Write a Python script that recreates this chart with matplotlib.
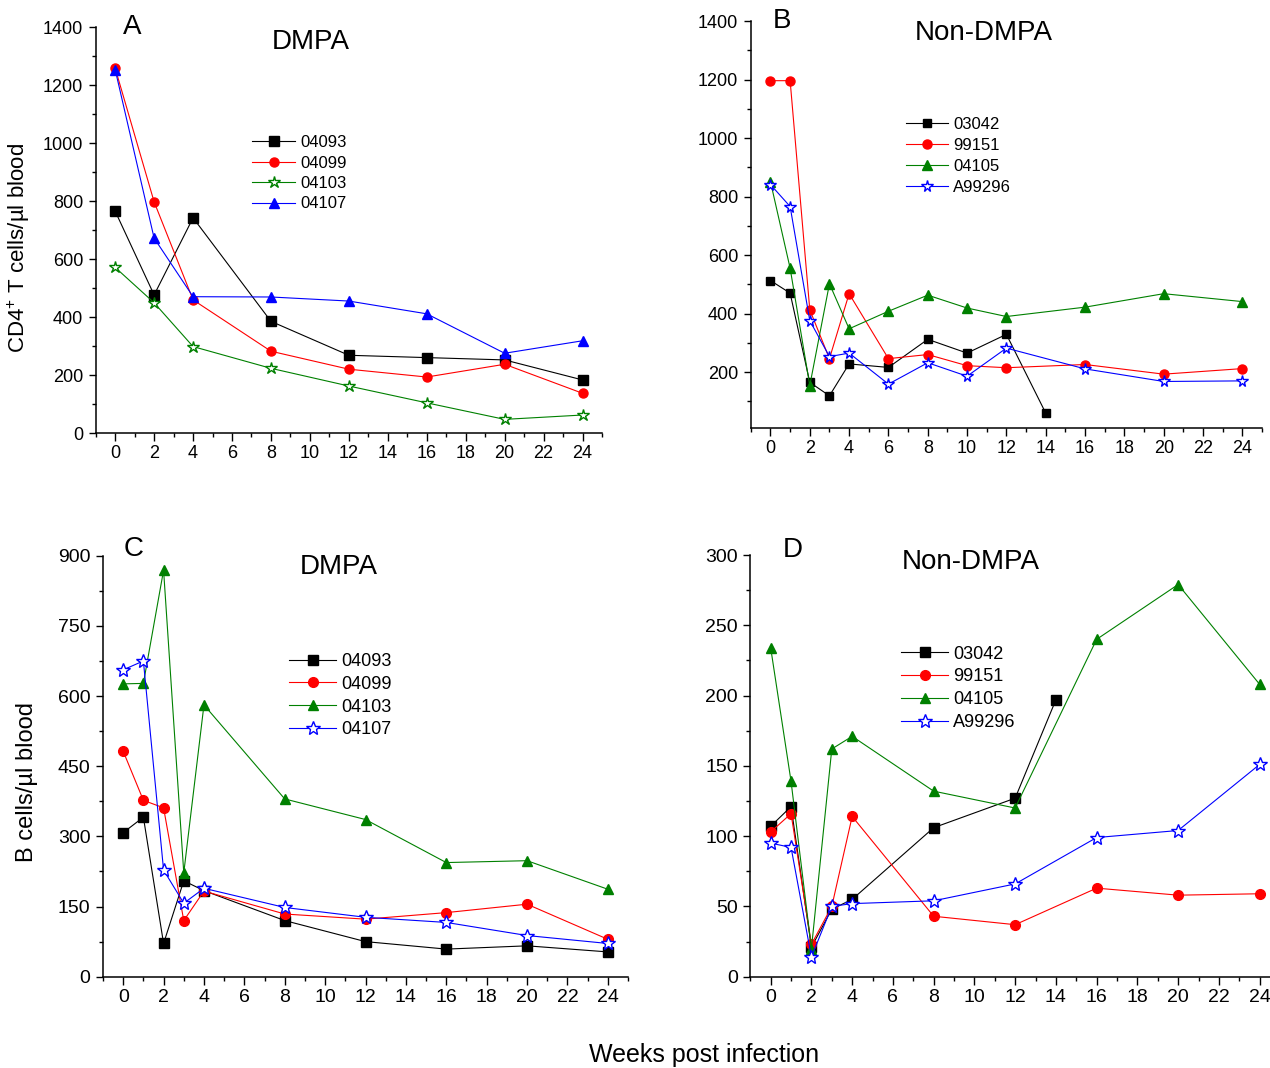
import matplotlib.pyplot as plt
from matplotlib.ticker import MultipleLocator

plt.rcParams['font.family'] = ['Liberation Sans', 'DejaVu Sans']
plt.rcParams['mathtext.default'] = 'regular'

# panel A: CD4+ T cells, DMPA
weeks_a = [0, 2, 4, 8, 12, 16, 20, 24]
cd4_04093 = [765, 476, 742, 385, 268, 260, 252, 183]
cd4_04099 = [1258, 797, 459, 282, 220, 193, 237, 137]
cd4_04103 = [571, 449, 298, 223, 162, 104, 47, 62]
cd4_04107 = [1253, 672, 470, 469, 455, 411, 275, 318]

# panel B: CD4+ T cells, Non-DMPA
weeks_b = [0, 1, 2, 3, 4, 6, 8, 10, 12, 16, 20, 24]
weeks_b_03042 = [0, 1, 2, 3, 4, 6, 8, 10, 12, 14]
cd4_03042 = [513, 470, 165, 119, 228, 216, 312, 265, 329, 60]
cd4_99151 = [1196, 1196, 413, 246, 468, 246, 260, 222, 215, 226, 193, 212]
cd4_04105 = [851, 555, 154, 502, 348, 408, 463, 419, 390, 422, 468, 441]
cd4_A99296 = [841, 766, 376, 253, 265, 159, 232, 186, 282, 211, 168, 170]

# panel C: B cells, DMPA
weeks_c = [0, 1, 2, 3, 4, 8, 12, 16, 20, 24]
b_04093 = [308, 341, 71, 205, 184, 120, 75, 59, 66, 53]
b_04099 = [482, 377, 361, 120, 183, 134, 123, 137, 155, 80]
b_04103 = [626, 627, 869, 222, 581, 380, 336, 244, 248, 187]
b_04107 = [656, 675, 228, 157, 189, 148, 127, 116, 88, 71]

# panel D: B cells, Non-DMPA
weeks_d = [0, 1, 2, 3, 4, 8, 12, 16, 20, 24]
weeks_d_03042 = [0, 1, 2, 3, 4, 8, 12, 14]
b_03042 = [107, 121, 21, 48, 55, 106, 127, 197]
b_99151 = [103, 116, 23, 50, 114, 43, 37, 63, 58, 59]
b_04105 = [234, 139, 20, 162, 171, 132, 120, 240, 279, 208]
b_A99296 = [95, 92, 14, 50, 52, 54, 66, 99, 104, 151]

W, H = 1270, 1068
fig = plt.figure(figsize=(W / 100, H / 100), dpi=100)


def px_axes(left, top, right, bottom):
    return fig.add_axes([left / W, 1 - bottom / H, (right - left) / W, (bottom - top) / H])


def style(ax, ymin, ymax, ystep, fs):
    ax.set_xlim(-1, 25)
    ax.set_ylim(ymin, ymax)
    for s in ['top', 'right']:
        ax.spines[s].set_visible(False)
    for s in ['left', 'bottom']:
        ax.spines[s].set_linewidth(1.1)
    ax.xaxis.set_major_locator(MultipleLocator(2))
    ax.xaxis.set_minor_locator(MultipleLocator(1))
    ax.yaxis.set_major_locator(MultipleLocator(ystep))
    ax.yaxis.set_minor_locator(MultipleLocator(ystep / 2))
    ax.tick_params(axis='x', which='major', direction='out', length=5.8, width=1, pad=3, labelsize=fs)
    ax.tick_params(axis='y', which='major', direction='out', length=5, width=1, pad=4, labelsize=fs)
    ax.tick_params(which='minor', direction='out', length=3, width=1)


def leg(ax, x, y, fs, hl, sp):
    fs_px = fs * 100 / 72
    ax.legend(loc='upper left', bbox_to_anchor=(x / W, 1 - y / H), bbox_transform=fig.transFigure,
              frameon=False, fontsize=fs, numpoints=1, handlelength=hl / fs_px,
              handletextpad=5 / fs_px, labelspacing=sp, borderpad=0, borderaxespad=0)


def star(ax, x, y, c, ms, label):
    ax.plot(x, y, color=c, lw=0.8, marker='*', ms=ms, mfc='white', mec=c, mew=1, label=label)


# ---- A ----
ax = px_axes(95.7, 27, 602, 433)
ax.plot(weeks_a, cd4_04093, color='black', lw=0.8, marker='s', ms=7, label='04093')
ax.plot(weeks_a, cd4_04099, color='red', lw=0.8, marker='o', ms=6.5, label='04099')
star(ax, weeks_a, cd4_04103, 'green', 9, '04103')
ax.plot(weeks_a, cd4_04107, color='blue', lw=0.8, marker='^', ms=7, label='04107')
style(ax, 0, 1400, 200, 13)
leg(ax, 252, 135, 12, 43, 0.33)
fig.text(132 / W, 1 - 27 / H, 'A', fontsize=20, ha='center', va='center')
fig.text(311 / W, 1 - 42 / H, 'DMPA', fontsize=20, ha='center', va='center')

# ---- B ----
ax = px_axes(750.8, 21, 1262, 427.7)
ax.plot(weeks_b_03042, cd4_03042, color='black', lw=0.8, marker='s', ms=5.5, label='03042')
ax.plot(weeks_b, cd4_99151, color='red', lw=0.8, marker='o', ms=6.5, label='99151')
ax.plot(weeks_b, cd4_04105, color='green', lw=0.8, marker='^', ms=6.5, label='04105')
star(ax, weeks_b, cd4_A99296, 'blue', 8.5, 'A99296')
style(ax, 10, 1400, 200, 13)
leg(ax, 906, 117, 12, 42, 0.36)
fig.text(781.7 / W, 1 - 21 / H, 'B', fontsize=20, ha='center', va='center')
fig.text(984 / W, 1 - 33 / H, 'Non-DMPA', fontsize=20, ha='center', va='center')

# ---- C ----
ax = px_axes(103, 555.7, 628, 976.7)
ax.plot(weeks_c, b_04093, color='black', lw=0.8, marker='s', ms=7, label='04093')
ax.plot(weeks_c, b_04099, color='red', lw=0.8, marker='o', ms=7, label='04099')
ax.plot(weeks_c, b_04103, color='green', lw=0.8, marker='^', ms=7.5, label='04103')
star(ax, weeks_c, b_04107, 'blue', 10, '04107')
style(ax, 0, 900, 150, 14)
leg(ax, 289, 653, 13, 47, 0.32)
fig.text(134 / W, 1 - 549 / H, 'C', fontsize=20, ha='center', va='center')
fig.text(339 / W, 1 - 567 / H, 'DMPA', fontsize=20, ha='center', va='center')

# ---- D ----
ax = px_axes(750.3, 555, 1280, 976.7)
ax.plot(weeks_d_03042, b_03042, color='black', lw=0.8, marker='s', ms=7, label='03042')
ax.plot(weeks_d, b_99151, color='red', lw=0.8, marker='o', ms=7, label='99151')
ax.plot(weeks_d, b_04105, color='green', lw=0.8, marker='^', ms=7.5, label='04105')
star(ax, weeks_d, b_A99296, 'blue', 10, 'A99296')
style(ax, 0, 300, 50, 14)
leg(ax, 901, 645.7, 13, 47, 0.32)
fig.text(792.5 / W, 1 - 550 / H, 'D', fontsize=20, ha='center', va='center')
fig.text(971 / W, 1 - 562 / H, 'Non-DMPA', fontsize=20, ha='center', va='center')

# axis labels
fig.text(19 / W, 1 - 247.5 / H, 'CD4$^{+}$ T cells/µl blood', fontsize=16, rotation=90, ha='center', va='center')
fig.text(27 / W, 1 - 782 / H, 'B cells/µl blood', fontsize=17, rotation=90, ha='center', va='center')
fig.text(704 / W, 1 - 1055 / H, 'Weeks post infection', fontsize=18, ha='center', va='center')

fig.savefig('out.png', dpi=100)
